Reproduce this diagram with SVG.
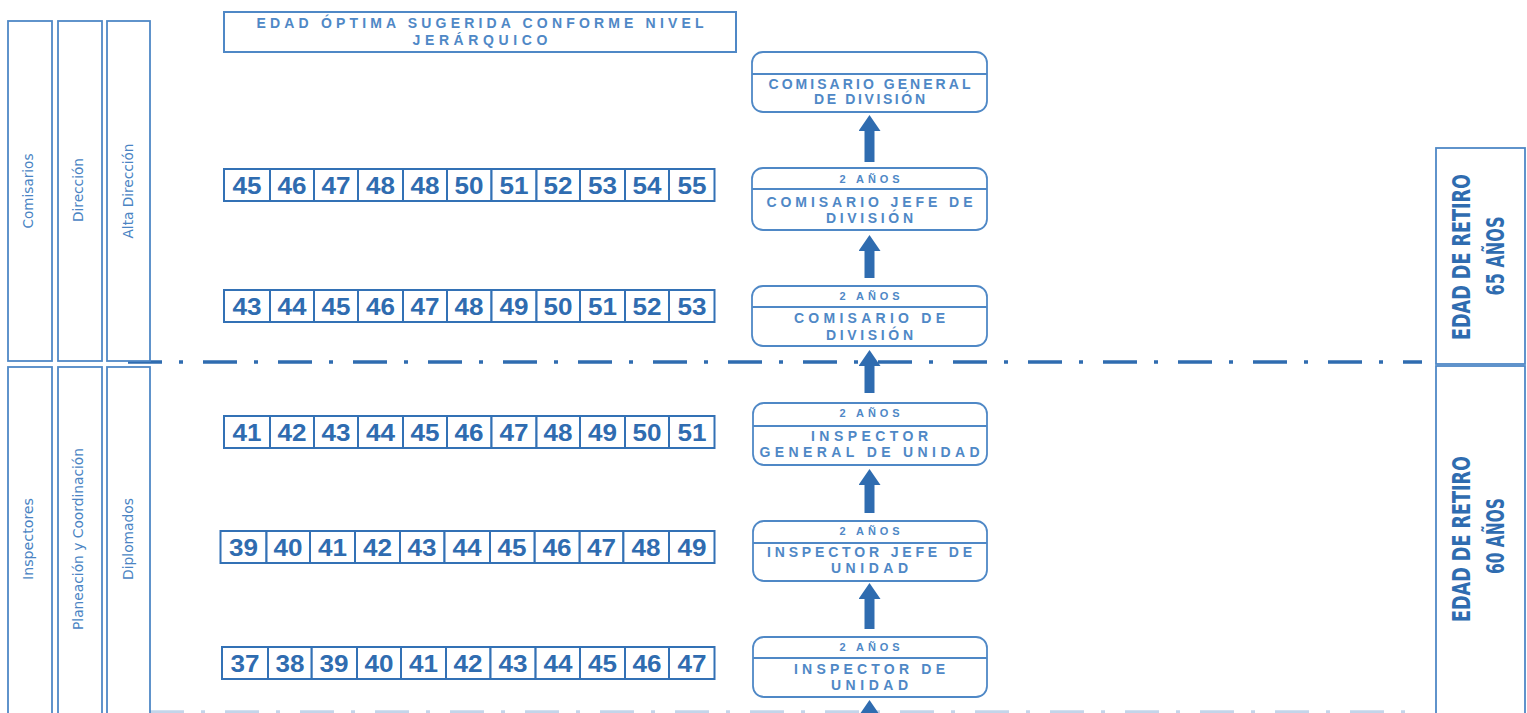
<svg xmlns="http://www.w3.org/2000/svg" width="1527" height="713" viewBox="0 0 1527 713">
<defs>
<style>
.col{fill:#fff;stroke:#4f88c6;stroke-width:1.8}
.coltxt{font-family:"Liberation Sans Narrow","DejaVu Sans Condensed","Liberation Sans",sans-serif;font-size:14px;fill:#4a84c3;text-anchor:middle}
.title{fill:#fff;stroke:#4f88c6;stroke-width:2}
.ttl{font-family:"Liberation Sans",Arial,sans-serif;font-weight:bold;font-size:14px;fill:#4f88c6;text-anchor:middle}
.cell{fill:#fff;stroke:#3371b5;stroke-width:2}
.num{font-family:"Liberation Sans",Arial,sans-serif;font-weight:bold;font-size:23px;fill:#2f6cb0;text-anchor:middle}
.node{fill:#fff;stroke:#4f88c6;stroke-width:1.8}
.div{stroke:#4f88c6;stroke-width:1.8}
.nt{font-family:"Liberation Sans",Arial,sans-serif;font-weight:bold;font-size:14px;fill:#4f88c6;text-anchor:middle}
.yr{font-family:"Liberation Sans",Arial,sans-serif;font-weight:bold;font-size:11px;fill:#4f88c6;text-anchor:middle}
.arrow{stroke:#2f6cb0;stroke-width:10;fill:none}
.sep{stroke:#2f6cb0;stroke-width:3.5;stroke-dasharray:34 17 4 20;fill:none}
.sep2{stroke:#c3d5ea;stroke-width:3.5;stroke-dasharray:34 17 4 20;fill:none}
.ret{fill:#fff;stroke:#4f88c6;stroke-width:1.8}
.rt{font-family:"Liberation Sans Narrow","DejaVu Sans Condensed","Liberation Sans",sans-serif;font-weight:bold;font-size:24px;fill:#2f6cb0;text-anchor:middle}
</style>
<marker id="ah" markerUnits="userSpaceOnUse" markerWidth="16" markerHeight="22" refX="0" refY="11" orient="auto" viewBox="0 0 16 22">
<path d="M0,0 L16,11 L0,22 Z" fill="#2f6cb0"/>
</marker>
</defs>
<rect width="1527" height="713" fill="#fff"/>

<!-- separators -->
<g id="separators">
<line class="sep" x1="128" y1="362" x2="1422" y2="362"/>
<line class="sep2" x1="150" y1="712" x2="1422" y2="712"/>
</g>

<!-- left columns -->
<g id="col-comisarios"><rect class="col" x="8" y="21" width="44" height="340"/><text class="coltxt" transform="translate(33,191) rotate(-90)" textLength="75" lengthAdjust="spacingAndGlyphs">Comisarios</text></g>
<g id="col-direccion"><rect class="col" x="58" y="21" width="44" height="340"/><text class="coltxt" transform="translate(83,190) rotate(-90)" textLength="64" lengthAdjust="spacingAndGlyphs">Dirección</text></g>
<g id="col-alta-direccion"><rect class="col" x="107" y="21" width="43" height="340"/><text class="coltxt" transform="translate(132.5,191) rotate(-90)" textLength="95" lengthAdjust="spacingAndGlyphs">Alta Dirección</text></g>
<g id="col-inspectores"><rect class="col" x="8" y="367" width="44" height="350"/><text class="coltxt" transform="translate(33,539) rotate(-90)" textLength="82" lengthAdjust="spacingAndGlyphs">Inspectores</text></g>
<g id="col-planeacion"><rect class="col" x="58" y="367" width="44" height="350"/><text class="coltxt" transform="translate(83,539) rotate(-90)" textLength="182" lengthAdjust="spacingAndGlyphs">Planeación y Coordinación</text></g>
<g id="col-diplomados"><rect class="col" x="107" y="367" width="43" height="350"/><text class="coltxt" transform="translate(132.5,539) rotate(-90)" textLength="82" lengthAdjust="spacingAndGlyphs">Diplomados</text></g>

<!-- title -->
<g id="title">
<rect class="title" x="224" y="12" width="512" height="40"/>
<text class="ttl" x="480" y="27.5" textLength="447" lengthAdjust="spacing">EDAD ÓPTIMA SUGERIDA CONFORME NIVEL</text>
<text class="ttl" x="480" y="44.5" textLength="135" lengthAdjust="spacing">JERÁRQUICO</text>
</g>

<!-- age rows -->
<g id="row-1">
<rect class="cell" x="224" y="169" width="46" height="32"/><text class="num" x="247" y="194" textLength="29" lengthAdjust="spacingAndGlyphs">45</text>
<rect class="cell" x="270" y="169" width="44" height="32"/><text class="num" x="292" y="194" textLength="29" lengthAdjust="spacingAndGlyphs">46</text>
<rect class="cell" x="314" y="169" width="44" height="32"/><text class="num" x="336" y="194" textLength="29" lengthAdjust="spacingAndGlyphs">47</text>
<rect class="cell" x="358" y="169" width="45" height="32"/><text class="num" x="380.5" y="194" textLength="29" lengthAdjust="spacingAndGlyphs">48</text>
<rect class="cell" x="403" y="169" width="44" height="32"/><text class="num" x="425" y="194" textLength="29" lengthAdjust="spacingAndGlyphs">48</text>
<rect class="cell" x="447" y="169" width="44.5" height="32"/><text class="num" x="469" y="194" textLength="29" lengthAdjust="spacingAndGlyphs">50</text>
<rect class="cell" x="491.5" y="169" width="45" height="32"/><text class="num" x="514" y="194" textLength="29" lengthAdjust="spacingAndGlyphs">51</text>
<rect class="cell" x="536.5" y="169" width="43.5" height="32"/><text class="num" x="558" y="194" textLength="29" lengthAdjust="spacingAndGlyphs">52</text>
<rect class="cell" x="580" y="169" width="45" height="32"/><text class="num" x="602.5" y="194" textLength="29" lengthAdjust="spacingAndGlyphs">53</text>
<rect class="cell" x="625" y="169" width="44" height="32"/><text class="num" x="647" y="194" textLength="29" lengthAdjust="spacingAndGlyphs">54</text>
<rect class="cell" x="669" y="169" width="45.5" height="32"/><text class="num" x="692" y="194" textLength="29" lengthAdjust="spacingAndGlyphs">55</text>
</g>
<g id="row-2">
<rect class="cell" x="224" y="290" width="46" height="32"/><text class="num" x="247" y="315" textLength="29" lengthAdjust="spacingAndGlyphs">43</text>
<rect class="cell" x="270" y="290" width="44" height="32"/><text class="num" x="292" y="315" textLength="29" lengthAdjust="spacingAndGlyphs">44</text>
<rect class="cell" x="314" y="290" width="44" height="32"/><text class="num" x="336" y="315" textLength="29" lengthAdjust="spacingAndGlyphs">45</text>
<rect class="cell" x="358" y="290" width="45" height="32"/><text class="num" x="380.5" y="315" textLength="29" lengthAdjust="spacingAndGlyphs">46</text>
<rect class="cell" x="403" y="290" width="44" height="32"/><text class="num" x="425" y="315" textLength="29" lengthAdjust="spacingAndGlyphs">47</text>
<rect class="cell" x="447" y="290" width="44.5" height="32"/><text class="num" x="469" y="315" textLength="29" lengthAdjust="spacingAndGlyphs">48</text>
<rect class="cell" x="491.5" y="290" width="45" height="32"/><text class="num" x="514" y="315" textLength="29" lengthAdjust="spacingAndGlyphs">49</text>
<rect class="cell" x="536.5" y="290" width="43.5" height="32"/><text class="num" x="558" y="315" textLength="29" lengthAdjust="spacingAndGlyphs">50</text>
<rect class="cell" x="580" y="290" width="45" height="32"/><text class="num" x="602.5" y="315" textLength="29" lengthAdjust="spacingAndGlyphs">51</text>
<rect class="cell" x="625" y="290" width="44" height="32"/><text class="num" x="647" y="315" textLength="29" lengthAdjust="spacingAndGlyphs">52</text>
<rect class="cell" x="669" y="290" width="45.5" height="32"/><text class="num" x="692" y="315" textLength="29" lengthAdjust="spacingAndGlyphs">53</text>
</g>
<g id="row-3">
<rect class="cell" x="224" y="416" width="46" height="32"/><text class="num" x="247" y="441" textLength="29" lengthAdjust="spacingAndGlyphs">41</text>
<rect class="cell" x="270" y="416" width="44" height="32"/><text class="num" x="292" y="441" textLength="29" lengthAdjust="spacingAndGlyphs">42</text>
<rect class="cell" x="314" y="416" width="44" height="32"/><text class="num" x="336" y="441" textLength="29" lengthAdjust="spacingAndGlyphs">43</text>
<rect class="cell" x="358" y="416" width="45" height="32"/><text class="num" x="380.5" y="441" textLength="29" lengthAdjust="spacingAndGlyphs">44</text>
<rect class="cell" x="403" y="416" width="44" height="32"/><text class="num" x="425" y="441" textLength="29" lengthAdjust="spacingAndGlyphs">45</text>
<rect class="cell" x="447" y="416" width="44.5" height="32"/><text class="num" x="469" y="441" textLength="29" lengthAdjust="spacingAndGlyphs">46</text>
<rect class="cell" x="491.5" y="416" width="45" height="32"/><text class="num" x="514" y="441" textLength="29" lengthAdjust="spacingAndGlyphs">47</text>
<rect class="cell" x="536.5" y="416" width="43.5" height="32"/><text class="num" x="558" y="441" textLength="29" lengthAdjust="spacingAndGlyphs">48</text>
<rect class="cell" x="580" y="416" width="45" height="32"/><text class="num" x="602.5" y="441" textLength="29" lengthAdjust="spacingAndGlyphs">49</text>
<rect class="cell" x="625" y="416" width="44" height="32"/><text class="num" x="647" y="441" textLength="29" lengthAdjust="spacingAndGlyphs">50</text>
<rect class="cell" x="669" y="416" width="45.5" height="32"/><text class="num" x="692" y="441" textLength="29" lengthAdjust="spacingAndGlyphs">51</text>
</g>
<g id="row-4">
<rect class="cell" x="220.5" y="531" width="46" height="32"/><text class="num" x="243.5" y="556" textLength="29" lengthAdjust="spacingAndGlyphs">39</text>
<rect class="cell" x="266.5" y="531" width="43.5" height="32"/><text class="num" x="288" y="556" textLength="29" lengthAdjust="spacingAndGlyphs">40</text>
<rect class="cell" x="310" y="531" width="45" height="32"/><text class="num" x="332.5" y="556" textLength="29" lengthAdjust="spacingAndGlyphs">41</text>
<rect class="cell" x="355" y="531" width="45" height="32"/><text class="num" x="377.5" y="556" textLength="29" lengthAdjust="spacingAndGlyphs">42</text>
<rect class="cell" x="400" y="531" width="44.5" height="32"/><text class="num" x="422" y="556" textLength="29" lengthAdjust="spacingAndGlyphs">43</text>
<rect class="cell" x="444.5" y="531" width="45.5" height="32"/><text class="num" x="467" y="556" textLength="29" lengthAdjust="spacingAndGlyphs">44</text>
<rect class="cell" x="490" y="531" width="44.7" height="32"/><text class="num" x="512" y="556" textLength="29" lengthAdjust="spacingAndGlyphs">45</text>
<rect class="cell" x="534.7" y="531" width="45" height="32"/><text class="num" x="557" y="556" textLength="29" lengthAdjust="spacingAndGlyphs">46</text>
<rect class="cell" x="579.7" y="531" width="43.7" height="32"/><text class="num" x="601.5" y="556" textLength="29" lengthAdjust="spacingAndGlyphs">47</text>
<rect class="cell" x="623.4" y="531" width="45.6" height="32"/><text class="num" x="646" y="556" textLength="29" lengthAdjust="spacingAndGlyphs">48</text>
<rect class="cell" x="669" y="531" width="45.5" height="32"/><text class="num" x="692" y="556" textLength="29" lengthAdjust="spacingAndGlyphs">49</text>
</g>
<g id="row-5">
<rect class="cell" x="222" y="647" width="46" height="32"/><text class="num" x="245" y="672" textLength="29" lengthAdjust="spacingAndGlyphs">37</text>
<rect class="cell" x="268" y="647" width="43.7" height="32"/><text class="num" x="290" y="672" textLength="29" lengthAdjust="spacingAndGlyphs">38</text>
<rect class="cell" x="311.7" y="647" width="45.3" height="32"/><text class="num" x="334" y="672" textLength="29" lengthAdjust="spacingAndGlyphs">39</text>
<rect class="cell" x="357" y="647" width="44" height="32"/><text class="num" x="379" y="672" textLength="29" lengthAdjust="spacingAndGlyphs">40</text>
<rect class="cell" x="401" y="647" width="45" height="32"/><text class="num" x="423.5" y="672" textLength="29" lengthAdjust="spacingAndGlyphs">41</text>
<rect class="cell" x="446" y="647" width="44.5" height="32"/><text class="num" x="468" y="672" textLength="29" lengthAdjust="spacingAndGlyphs">42</text>
<rect class="cell" x="490.5" y="647" width="45.1" height="32"/><text class="num" x="513" y="672" textLength="29" lengthAdjust="spacingAndGlyphs">43</text>
<rect class="cell" x="535.6" y="647" width="44.4" height="32"/><text class="num" x="558" y="672" textLength="29" lengthAdjust="spacingAndGlyphs">44</text>
<rect class="cell" x="580" y="647" width="45" height="32"/><text class="num" x="602.5" y="672" textLength="29" lengthAdjust="spacingAndGlyphs">45</text>
<rect class="cell" x="625" y="647" width="44" height="32"/><text class="num" x="647" y="672" textLength="29" lengthAdjust="spacingAndGlyphs">46</text>
<rect class="cell" x="669" y="647" width="45.5" height="32"/><text class="num" x="692" y="672" textLength="29" lengthAdjust="spacingAndGlyphs">47</text>
</g>

<!-- connectors -->
<g id="connectors">
<line class="arrow" x1="869.5" y1="162" x2="869.5" y2="131" marker-end="url(#ah)"/>
<line class="arrow" x1="869.5" y1="278" x2="869.5" y2="251" marker-end="url(#ah)"/>
<line class="arrow" x1="869.5" y1="393" x2="869.5" y2="366" marker-end="url(#ah)"/>
<line class="arrow" x1="869.5" y1="513" x2="869.5" y2="485" marker-end="url(#ah)"/>
<line class="arrow" x1="869.5" y1="629" x2="869.5" y2="599" marker-end="url(#ah)"/>
<line class="arrow" x1="869.5" y1="730" x2="869.5" y2="716" marker-end="url(#ah)"/>
</g>

<!-- rank nodes -->
<g id="node-comisario-general">
<rect class="node" x="752" y="52" width="235" height="60" rx="11"/>
<line class="div" x1="752" y1="74" x2="987" y2="74"/>
<text class="nt" x="869.5" y="89" textLength="202" lengthAdjust="spacing">COMISARIO GENERAL</text>
<text class="nt" x="869.5" y="104" textLength="111" lengthAdjust="spacing">DE DIVISIÓN</text>
</g>
<g id="node-comisario-jefe">
<rect class="node" x="752" y="168" width="235" height="62" rx="11"/>
<line class="div" x1="752" y1="189" x2="987" y2="189"/>
<text class="yr" x="869.5" y="183" textLength="60" lengthAdjust="spacing">2 AÑOS</text>
<text class="nt" x="869.5" y="207" textLength="206" lengthAdjust="spacing">COMISARIO JEFE DE</text>
<text class="nt" x="869.5" y="223" textLength="87" lengthAdjust="spacing">DIVISIÓN</text>
</g>
<g id="node-comisario-division">
<rect class="node" x="752" y="286" width="235" height="60" rx="11"/>
<line class="div" x1="752" y1="307" x2="987" y2="307"/>
<text class="yr" x="869.5" y="300" textLength="60" lengthAdjust="spacing">2 AÑOS</text>
<text class="nt" x="869.5" y="323" textLength="151" lengthAdjust="spacing">COMISARIO DE</text>
<text class="nt" x="869.5" y="340" textLength="87" lengthAdjust="spacing">DIVISIÓN</text>
</g>
<g id="node-inspector-general">
<rect class="node" x="753" y="403" width="234" height="62" rx="11"/>
<line class="div" x1="753" y1="426" x2="987" y2="426"/>
<text class="yr" x="869.5" y="417" textLength="60" lengthAdjust="spacing">2 AÑOS</text>
<text class="nt" x="869.5" y="441" textLength="117" lengthAdjust="spacing">INSPECTOR</text>
<text class="nt" x="869.5" y="457" textLength="220" lengthAdjust="spacing">GENERAL DE UNIDAD</text>
</g>
<g id="node-inspector-jefe">
<rect class="node" x="753" y="521" width="234" height="60" rx="11"/>
<line class="div" x1="753" y1="543" x2="987" y2="543"/>
<text class="yr" x="869.5" y="535" textLength="60" lengthAdjust="spacing">2 AÑOS</text>
<text class="nt" x="869.5" y="557" textLength="205" lengthAdjust="spacing">INSPECTOR JEFE DE</text>
<text class="nt" x="869.5" y="573" textLength="77" lengthAdjust="spacing">UNIDAD</text>
</g>
<g id="node-inspector-unidad">
<rect class="node" x="753" y="637" width="234" height="60" rx="11"/>
<line class="div" x1="753" y1="658" x2="987" y2="658"/>
<text class="yr" x="869.5" y="651" textLength="60" lengthAdjust="spacing">2 AÑOS</text>
<text class="nt" x="869.5" y="674" textLength="151" lengthAdjust="spacing">INSPECTOR DE</text>
<text class="nt" x="869.5" y="690" textLength="77" lengthAdjust="spacing">UNIDAD</text>
</g>

<!-- retirement boxes -->
<g id="retiro-65">
<rect class="ret" x="1436" y="148" width="89" height="216"/>
<text class="rt" transform="translate(1469.5,257) rotate(-90)" textLength="166" lengthAdjust="spacingAndGlyphs">EDAD DE RETIRO</text>
<text class="rt" transform="translate(1503.5,256) rotate(-90)" textLength="79" lengthAdjust="spacingAndGlyphs">65 AÑOS</text>
</g>
<g id="retiro-60">
<rect class="ret" x="1436" y="366" width="89" height="352"/>
<text class="rt" transform="translate(1469.5,539) rotate(-90)" textLength="166" lengthAdjust="spacingAndGlyphs">EDAD DE RETIRO</text>
<text class="rt" transform="translate(1503.5,536) rotate(-90)" textLength="76" lengthAdjust="spacingAndGlyphs">60 AÑOS</text>
</g>
</svg>
